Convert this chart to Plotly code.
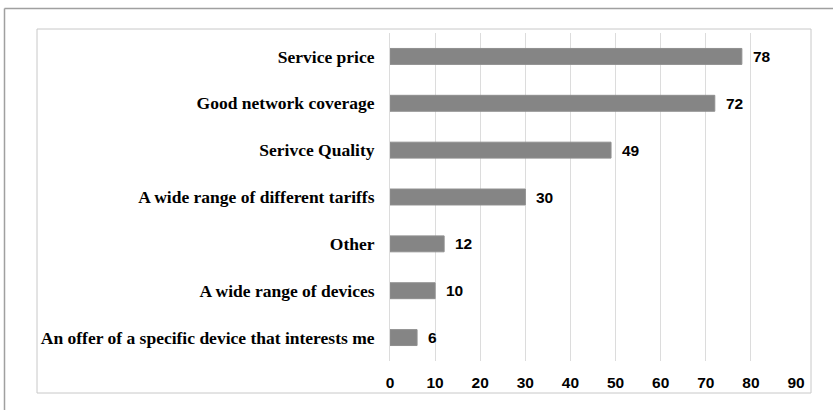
import plotly.graph_objects as go

categories = [
    "Service price",
    "Good network coverage",
    "Serivce Quality",
    "A wide range of different tariffs",
    "Other",
    "A wide range of devices",
    "An offer of a specific device that interests me",
]
values = [78, 72, 49, 30, 12, 10, 6]
x_ticks = [0, 10, 20, 30, 40, 50, 60, 70, 80, 90]

W, H = 833, 410
L, R, T, B = 390, 37, 33, 49
pw, ph = W - L - R, H - T - B


def px(x):
    return (x - L) / pw


def py(y):
    return 1 - (y - T) / ph


fig = go.Figure(
    go.Bar(
        y=categories,
        x=values,
        orientation="h",
        marker=dict(color="#858585", line=dict(color="#8f8f8f", width=1)),
        width=0.34,
        hoverinfo="x+y",
    )
)

# value labels to the right of each bar
for cat, val in zip(categories, values):
    fig.add_annotation(
        x=val, y=cat, xref="x", yref="y",
        text=f"<b>{val}</b>",
        showarrow=False,
        xanchor="left",
        xshift=9,
        font=dict(family="Liberation Sans, Arial", size=15.5, color="#000000"),
    )

fig.update_layout(
    width=W,
    height=H,
    margin=dict(l=L, r=R, t=T, b=B),
    paper_bgcolor="white",
    plot_bgcolor="white",
    showlegend=False,
    xaxis=dict(
        range=[0, 90],
        tickvals=x_ticks,
        showgrid=True,
        gridcolor="#dcdcdc",
        gridwidth=1,
        zeroline=False,
        showline=False,
        tickfont=dict(family="Liberation Sans, Arial", size=15.5, color="#000000", weight="bold"),
        ticklabelstandoff=10,
        fixedrange=True,
    ),
    yaxis=dict(
        categoryorder="array",
        categoryarray=categories[::-1],
        showline=True,
        linecolor="#dcdcdc",
        linewidth=1,
        showgrid=False,
        tickfont=dict(family="Liberation Serif, Times New Roman", size=17.5, color="#000000", weight="bold"),
        ticklabelstandoff=11,
        fixedrange=True,
    ),
    shapes=[
        # inner chart frame
        dict(type="rect", xref="paper", yref="paper",
             x0=px(37), x1=px(811), y0=py(29), y1=py(393),
             line=dict(color="#c8c8c8", width=1), layer="below"),
        # outer page frame (top and left edges)
        dict(type="line", xref="paper", yref="paper",
             x0=px(4.5), x1=px(833), y0=py(8.5), y1=py(8.5),
             line=dict(color="#a0a0a0", width=1.5)),
        dict(type="line", xref="paper", yref="paper",
             x0=px(4.5), x1=px(4.5), y0=py(8.5), y1=py(410),
             line=dict(color="#a0a0a0", width=1.5)),
    ],
)

fig.write_html("out.html")
